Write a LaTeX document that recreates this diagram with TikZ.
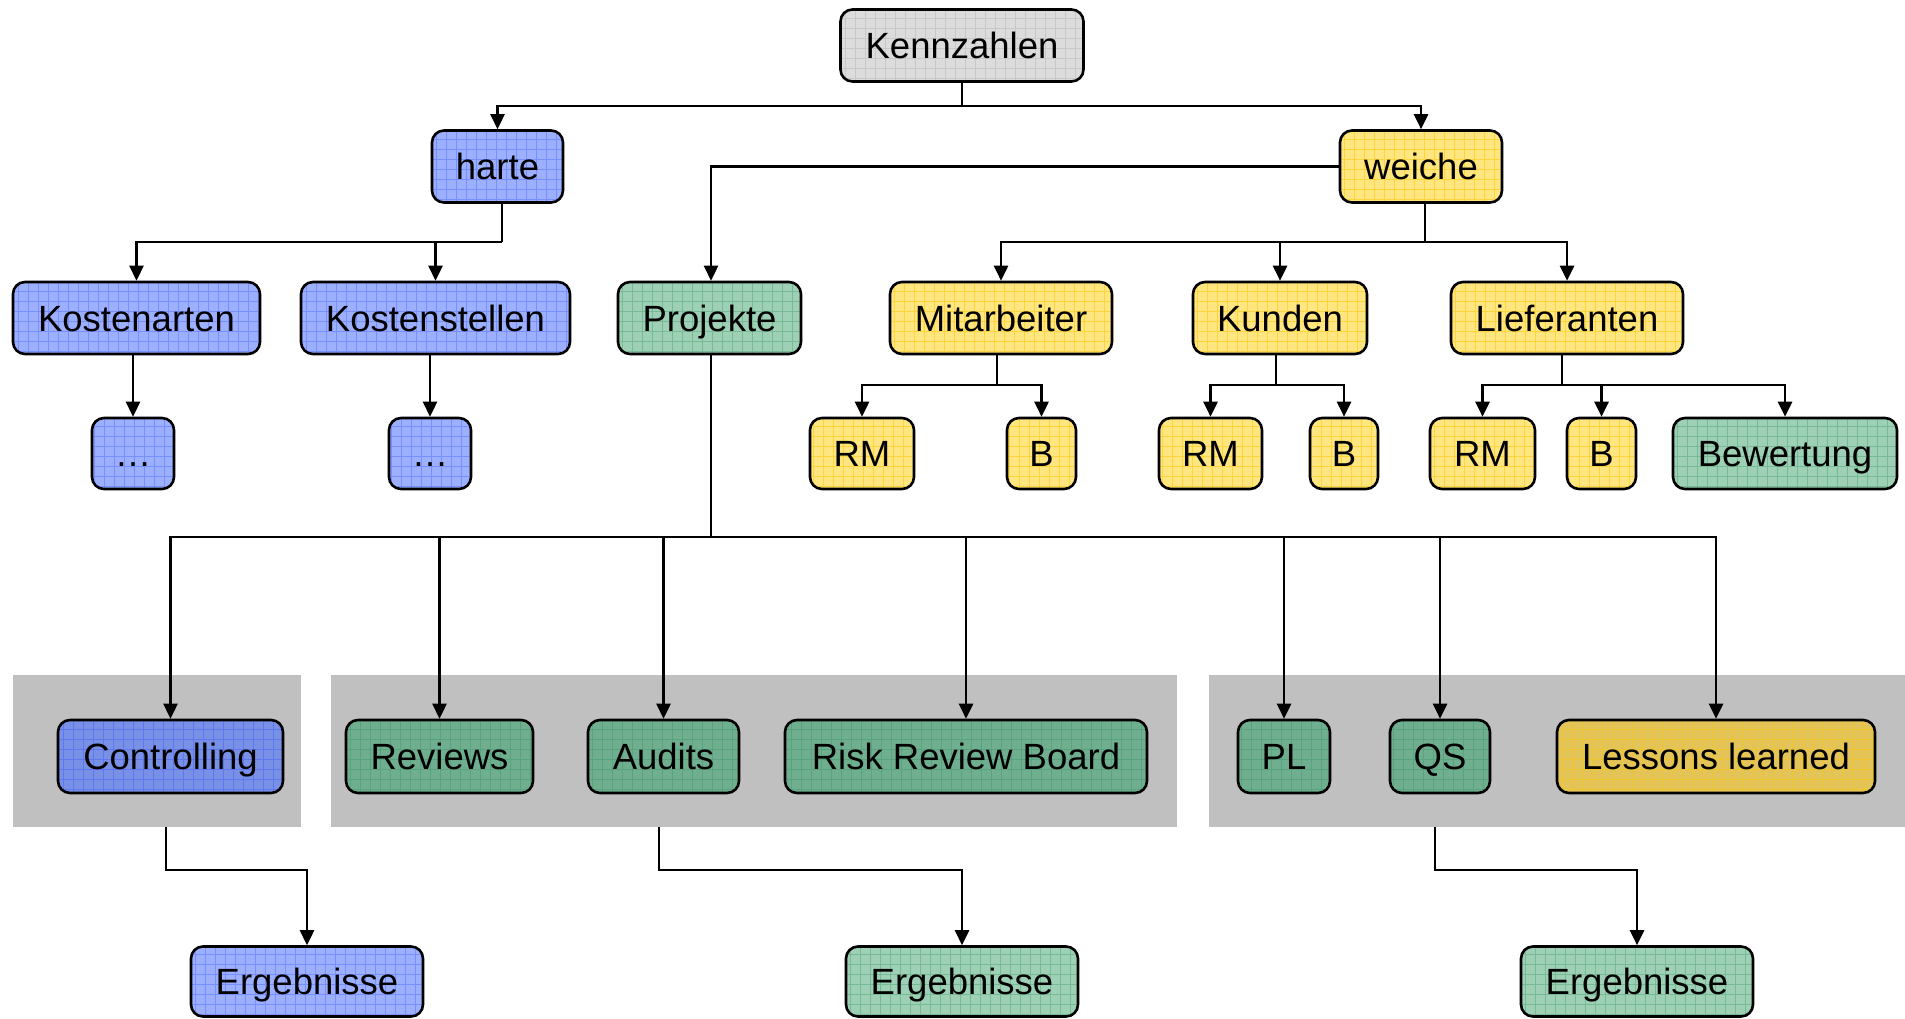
\documentclass[tikz,border=0pt]{standalone}
\usepackage{fontspec}
\setmainfont{Liberation Sans}
\usetikzlibrary{arrows.meta}

\definecolor{greyfill}{HTML}{DCDCDC}
\definecolor{greygrid}{HTML}{C8C8C8}
\definecolor{bluefill}{HTML}{9CB0FF}
\definecolor{bluegrid}{HTML}{7890FF}
\definecolor{bluedark}{HTML}{7890E6}
\definecolor{bluedarkgrid}{HTML}{5F78F0}
\definecolor{greenfill}{HTML}{9ED0B5}
\definecolor{greengrid}{HTML}{78BA96}
\definecolor{greendark}{HTML}{6FAE8E}
\definecolor{greendarkgrid}{HTML}{59A37E}
\definecolor{yellowfill}{HTML}{FFE680}
\definecolor{yellowgrid}{HTML}{FFD53C}
\definecolor{yellowdark}{HTML}{E2C45A}
\definecolor{yellowdarkgrid}{HTML}{F0C52C}
\definecolor{panelgrey}{HTML}{C0C0C0}

\tikzset{
  box/.style={draw=black, line width=2.6pt, rounded corners=12pt, inner sep=0pt,
    text height=26pt, text depth=0pt, font=\fontsize{36.5}{40}\selectfont,
    minimum height=72pt},
  gridfill/.style 2 args={fill=#1, path picture={
    \draw[#2, line width=0.8pt] (path picture bounding box.south west)
      grid[step=10pt] (path picture bounding box.north east);}},
  grey/.style={box, gridfill={greyfill}{greygrid}},
  blue/.style={box, gridfill={bluefill}{bluegrid}},
  bluedk/.style={box, gridfill={bluedark}{bluedarkgrid}},
  green/.style={box, gridfill={greenfill}{greengrid}},
  greendk/.style={box, gridfill={greendark}{greendarkgrid}},
  yellow/.style={box, gridfill={yellowfill}{yellowgrid}},
  yellowdk/.style={box, gridfill={yellowdark}{yellowdarkgrid}},
  panel/.style={fill=panelgrey, draw=none, inner sep=0pt},
  link/.style={line width=2.6pt},
  arr/.style={line width=2.6pt, -{Triangle[width=14pt,length=15pt]}},
}

\begin{document}
\begin{tikzpicture}[x=1pt,y=-1pt]
\useasboundingbox (0,0) rectangle (1905,1018);
\fill[white] (0,0) rectangle (1905,1018);

% grey panels behind the project groups
\node[panel, minimum width=288, minimum height=152] (pa) at (157,751) {};
\node[panel, minimum width=846, minimum height=152] (pb) at (754,751) {};
\node[panel, minimum width=696, minimum height=152] (pc) at (1557,751) {};

% top levels
\node[grey, minimum width=243] (kz) at (962,45.5) {Kennzahlen};
\node[blue, minimum width=131] (harte) at (497.5,166.5) {harte};
\node[yellow, minimum width=162] (weiche) at (1421,166.5) {weiche};

% third row
\node[blue, minimum width=247] (kart) at (136.5,318) {Kostenarten};
\node[blue, minimum width=269] (kst) at (435.5,318) {Kostenstellen};
\node[green, minimum width=183] (proj) at (709.5,318) {Projekte};
\node[yellow, minimum width=222] (mit) at (1001,318) {Mitarbeiter};
\node[yellow, minimum width=174] (kun) at (1280,318) {Kunden};
\node[yellow, minimum width=232] (lief) at (1567,318) {Lieferanten};

% fourth row
\node[blue, minimum width=82, minimum height=71] (dotsa) at (133,453.5) {…};
\node[blue, minimum width=82, minimum height=71] (dotsb) at (430,453.5) {…};
\node[yellow, minimum width=104, minimum height=71] (rma) at (862,453.5) {RM};
\node[yellow, minimum width=69, minimum height=71] (ba) at (1041.5,453.5) {B};
\node[yellow, minimum width=103, minimum height=71] (rmb) at (1210.5,453.5) {RM};
\node[yellow, minimum width=68, minimum height=71] (bb) at (1344,453.5) {B};
\node[yellow, minimum width=105, minimum height=71] (rmc) at (1482.5,453.5) {RM};
\node[yellow, minimum width=69, minimum height=71] (bc) at (1601.5,453.5) {B};
\node[green, minimum width=224, minimum height=71] (bew) at (1785,453.5) {Bewertung};

% project instruments
\node[bluedk, minimum width=225, minimum height=73] (ctrl) at (170.5,756.5) {Controlling};
\node[greendk, minimum width=187, minimum height=73] (rev) at (439.5,756.5) {Reviews};
\node[greendk, minimum width=151, minimum height=73] (aud) at (663.5,756.5) {Audits};
\node[greendk, minimum width=362, minimum height=73] (rrb) at (966,756.5) {Risk Review Board};
\node[greendk, minimum width=92, minimum height=73] (pl) at (1284,756.5) {PL};
\node[greendk, minimum width=100, minimum height=73] (qs) at (1440,756.5) {QS};
\node[yellowdk, minimum width=318, minimum height=73] (ll) at (1716,756.5) {Lessons learned};

% results
\node[blue, minimum width=232, minimum height=70] (ea) at (307,981.5) {Ergebnisse};
\node[green, minimum width=232, minimum height=70] (eb) at (962,981.5) {Ergebnisse};
\node[green, minimum width=232, minimum height=70] (ec) at (1637,981.5) {Ergebnisse};

% junction points
\coordinate (kj) at (962,106);
\coordinate (hj) at (502,242);
\coordinate (wj) at (1425,242);
\coordinate (mj) at (997,385);
\coordinate (uj) at (1276,385);
\coordinate (lj) at (1562,385);
\coordinate (pj) at (711,537);
\coordinate (pas) at (166,827);
\coordinate (pbs) at (659,827);
\coordinate (pcs) at (1435,827);

% connectors
\draw[link] (kz) -- (kj);
\draw[arr] (kj) -| (harte);
\draw[arr] (kj) -| (weiche);

\draw[arr] (weiche.west) -| (pj |- proj.north);

\draw[link] (harte.south -| hj) -- (hj);
\draw[arr] (hj) -| (kart);
\draw[arr] (hj) -| (kst);

\draw[link] (weiche.south -| wj) -- (wj);
\draw[arr] (wj) -| (mit);
\draw[arr] (wj) -| (kun);
\draw[arr] (wj) -| (lief);

\draw[arr] (kart.south -| dotsa) -- (dotsa);
\draw[arr] (kst.south -| dotsb) -- (dotsb);

\draw[link] (mit.south -| mj) -- (mj);
\draw[arr] (mj) -| (rma);
\draw[arr] (mj) -| (ba);

\draw[link] (kun.south -| uj) -- (uj);
\draw[arr] (uj) -| (rmb);
\draw[arr] (uj) -| (bb);

\draw[link] (lief.south -| lj) -- (lj);
\draw[arr] (lj) -| (rmc);
\draw[arr] (lj) -| (bc);
\draw[arr] (lj) -| (bew);

\draw[link] (proj.south -| pj) -- (pj);
\foreach \t in {ctrl,rev,aud,rrb,pl,qs,ll}
  \draw[arr] (pj) -| (\t);

\draw[arr] (pas) -- ++(0,43) -| (ea);
\draw[arr] (pbs) -- ++(0,43) -| (eb);
\draw[arr] (pcs) -- ++(0,43) -| (ec);
\end{tikzpicture}
\end{document}
